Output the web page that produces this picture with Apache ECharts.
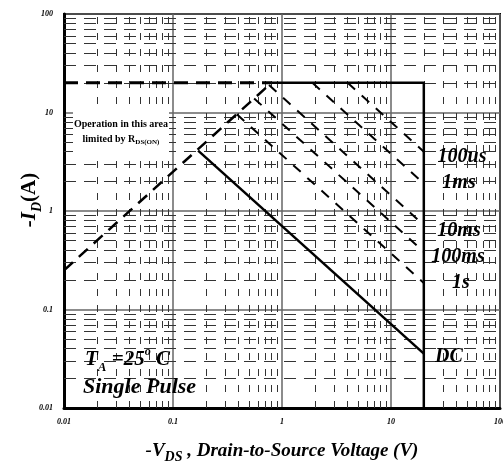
<!DOCTYPE html>
<html>
<head>
<meta charset="utf-8">
<script src="https://cdn.jsdelivr.net/npm/echarts@6/dist/echarts.min.js"></script>
<style>
  html, body { margin: 0; padding: 0; background: #fff; }
  #chart { width: 503px; height: 465px; }
</style>
</head>
<body>
<div id="chart"></div>
<script>
// Axis tick labels (log decades)
const xTickLabels = ['0.01', '0.1', '1', '10', '100'];
const yTickLabels = ['0.01', '0.1', '1', '10', '100'];

// Safe operating area boundaries: [-VDS (V), -ID (A)]
const rdsOnLimit = [[0.01, 0.25], [0.8, 20]];
const currentLimitDashed = [[0.01, 20], [0.8, 20]];
const outerBoundary = [[0.8, 20], [20, 20], [20, 0.01]];
const pulse100us = [[4, 20], [20, 4]];
const pulse1ms = [[1.9, 20], [20, 1.9]];
const pulse10ms = [[0.76, 19], [20, 0.72]];
const pulse100ms = [[0.555, 13.9], [20, 0.385]];
const pulse1s = [[0.385, 9.6], [20, 0.186]];
const dcLine = [[0.17, 4.1], [20, 0.0356]];

const curveNames = ['100us', '1ms', '10ms', '100ms', '1s', 'DC'];

const SERIF = '"Liberation Serif", "DejaVu Serif", serif';

// minor log grid positions 2..9 x 10^d
const minorVals = [];
for (let d = -2; d <= 1; d++) {
  for (let k = 2; k <= 9; k++) minorVals.push(+(k * Math.pow(10, d)).toPrecision(3));
}

function decadeLabel(labels) {
  return function (v) {
    const i = Math.round(Math.log10(v)) + 2;
    return labels[i] !== undefined ? labels[i] : '';
  };
}

const tickLabelStyle = {
  fontFamily: SERIF, fontSize: 8, fontWeight: 'bold', fontStyle: 'italic', color: '#000'
};

function lineSeries(data, width, dashed, z) {
  return {
    type: 'line', data: data, showSymbol: false, symbol: 'none', silent: true, z: z || 5,
    lineStyle: { color: '#000', width: width, type: dashed ? dashed : 'solid' }
  };
}

function gridMarks(dash, key) {
  return {
    type: 'line', data: [[0.01, 100]], showSymbol: false, silent: true, z: 1,
    lineStyle: { opacity: 0 },
    markLine: {
      z: 1, silent: true, symbol: ['none', 'none'], label: { show: false }, animation: false,
      lineStyle: { color: '#333', width: 1, type: dash },
      data: minorVals.map(v => ({ [key]: v }))
    }
  };
}

const chart = echarts.init(document.getElementById('chart'), null, { renderer: 'canvas' });

const labelFont = { fontFamily: SERIF, fontWeight: 'bold', fontStyle: 'italic', fill: '#000' };

function curveText(text, x, y) {
  return {
    type: 'text', x: x, y: y, z: 20,
    style: Object.assign({
      text: text, fontSize: 20, align: 'center', verticalAlign: 'middle',
      textAlign: 'center', textVerticalAlign: 'middle'
    }, labelFont)
  };
}

chart.setOption({
  animation: false,
  backgroundColor: '#fff',
  grid: {
    left: 64, right: 3, top: 14, bottom: 57,
    containLabel: false, outerBoundsMode: 'none',
    show: true, borderColor: '#000', borderWidth: 2, backgroundColor: 'transparent'
  },
  xAxis: {
    type: 'log', logBase: 10, min: 0.01, max: 100,
    axisLine: { show: true, onZero: false, lineStyle: { color: '#000', width: 3 } },
    axisTick: { show: false },
    axisLabel: Object.assign({ margin: 10, formatter: decadeLabel(xTickLabels) }, tickLabelStyle),
    splitLine: { show: true, lineStyle: { color: '#666', width: 1.5 } }
  },
  yAxis: {
    type: 'log', logBase: 10, min: 0.01, max: 100,
    axisLine: { show: true, onZero: false, lineStyle: { color: '#000', width: 3 } },
    axisTick: { show: false },
    axisLabel: Object.assign({ margin: 11, formatter: decadeLabel(yTickLabels) }, tickLabelStyle),
    splitLine: { show: true, lineStyle: { color: '#666', width: 1.5 } }
  },
  series: [
    gridMarks([7, 9], 'xAxis'),
    gridMarks([12, 8], 'yAxis'),
    lineSeries(rdsOnLimit, 2.5, [12, 8]),
    lineSeries(currentLimitDashed, 3, [14, 8]),
    lineSeries(outerBoundary, 2.5),
    lineSeries(pulse100us, 2, [10, 9]),
    lineSeries(pulse1ms, 2, [10, 9]),
    lineSeries(pulse10ms, 2, [10, 9]),
    lineSeries(pulse100ms, 2, [10, 9]),
    lineSeries(pulse1s, 2, [10, 9]),
    lineSeries(dcLine, 2.5)
  ],
  graphic: [
    // label box for the RDS(on) region
    { type: 'rect', z: 3, shape: { x: 73, y: 104, width: 96, height: 53 }, style: { fill: '#fff' } },
    {
      type: 'text', x: 121, y: 124, z: 20,
      style: {
        text: 'Operation in this area', fontFamily: SERIF, fontWeight: 'bold', fontSize: 10, fill: '#000',
        align: 'center', verticalAlign: 'middle', textAlign: 'center', textVerticalAlign: 'middle'
      }
    },
    {
      type: 'text', x: 121, y: 139, z: 20,
      style: {
        text: '{b|limited by R}{s|DS(ON)}', fill: '#000',
        align: 'center', verticalAlign: 'middle', textAlign: 'center', textVerticalAlign: 'middle',
        rich: {
          b: { fontFamily: SERIF, fontWeight: 'bold', fontSize: 10, lineHeight: 14 },
          s: { fontFamily: SERIF, fontWeight: 'bold', fontSize: 7, lineHeight: 7, verticalAlign: 'bottom' }
        }
      }
    },
    curveText(curveNames[0], 462, 157),
    curveText(curveNames[1], 459, 183),
    curveText(curveNames[2], 459, 231),
    curveText(curveNames[3], 458, 257),
    curveText(curveNames[4], 461, 283),
    curveText(curveNames[5], 449, 357),
    // test conditions
    {
      type: 'text', x: 85, y: 360, z: 20,
      style: {
        text: '{m|T}{s|A}{m| =25}{p|o}{m| C}', fill: '#000',
        align: 'left', verticalAlign: 'middle', textAlign: 'left', textVerticalAlign: 'middle',
        rich: {
          m: Object.assign({ fontSize: 21, lineHeight: 28 }, labelFont),
          s: Object.assign({ fontSize: 13, lineHeight: 13, verticalAlign: 'bottom' }, labelFont),
          p: Object.assign({ fontSize: 12, lineHeight: 12, verticalAlign: 'top' }, labelFont)
        }
      }
    },
    {
      type: 'text', x: 83, y: 387, z: 20,
      style: Object.assign({
        text: 'Single Pulse', fontSize: 22, align: 'left', verticalAlign: 'middle',
        textAlign: 'left', textVerticalAlign: 'middle'
      }, labelFont)
    },
    // axis titles
    {
      type: 'text', x: 282, y: 451, z: 20,
      style: {
        text: '{m|-V}{s|DS}{m| , Drain-to-Source Voltage (V)}', fill: '#000',
        align: 'center', verticalAlign: 'middle', textAlign: 'center', textVerticalAlign: 'middle',
        rich: {
          m: Object.assign({ fontSize: 19, lineHeight: 26 }, labelFont),
          s: Object.assign({ fontSize: 14, lineHeight: 14, verticalAlign: 'bottom' }, labelFont)
        }
      }
    },
    {
      type: 'text', x: 30, y: 200, z: 20, rotation: Math.PI / 2,
      style: {
        text: '{m|-I}{s|D}{u|(A)}', fill: '#000',
        align: 'center', verticalAlign: 'middle', textAlign: 'center', textVerticalAlign: 'middle',
        rich: {
          m: Object.assign({ fontSize: 21, lineHeight: 28 }, labelFont),
          s: Object.assign({ fontSize: 14, lineHeight: 14, verticalAlign: 'bottom' }, labelFont),
          u: { fontFamily: SERIF, fontWeight: 'bold', fontSize: 21, lineHeight: 28, fill: '#000' }
        }
      }
    }
  ]
});
</script>
</body>
</html>
